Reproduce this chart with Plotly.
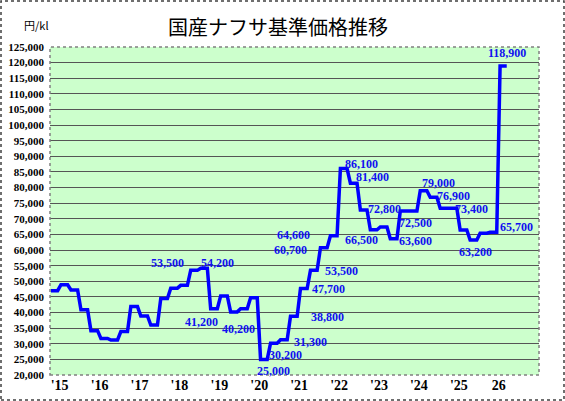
import pandas
import plotly.graph_objs as go

# quarterly domestic naphtha base price (yen/kl), 2015 Q1 onward
prices = [47000, 48900, 47200, 40900,
          34200, 31700, 31200, 33900,
          41900, 38900, 36000, 44500,
          47800, 48700, 53500, 54200,
          41200, 45300, 40200, 41200,
          44700, 25000, 30200, 31300,
          38800, 47700, 53500, 60700,
          64600, 86100, 81400, 72800,
          66500, 67400, 63600, 72500,
          72500, 79000, 76900, 73400,
          73400, 66400, 63200, 65400,
          65700, 118900]

year_labels = ["'15", "'16", "'17", "'18", "'19", "'20", "'21",
               "'22", "'23", "'24", "'25", "26"]

# quarters that carry a value label
label_q = [14, 15, 16, 18, 21, 22, 23, 24, 25, 26, 27, 28, 29, 30, 31,
           32, 34, 35, 37, 38, 39, 42, 44, 45]
# pixel offsets of each label from its point
label_dx = [-27, 13, -13, 5, 10, 12, 27, 34, 25, 28, -33, -40, 18, 19, 21,
            -12, 22, 12, 15, 20, 28, 2, 23, 4]
label_dy = [7, 5, -13, -17, -12, -12, -2, -1, -1, -1, -2, 1, 5, 6, 1,
            -10, -2, -12, 8, 1, -1, -12, 5, 13]

# each quarter's price is held for three months
rows = []
for i, p in enumerate(prices):
    for k in range(3):
        rows.append([3 * i + k, p])
df = pandas.DataFrame(rows, columns=("month", "price"))

line = go.Scatter(x=df["month"], y=df["price"], mode="lines",
                  line=dict(color="#0000FF", width=3.5), hoverinfo="skip")

fig = go.Figure([line])

ml, mr, mt, mb = 50, 26, 47, 26
W, H = 565, 401
pw, ph = W - ml - mr, H - mt - mb

serif = "Liberation Serif"
blue = "#1010F0"

annotations = []
for q, dx, dy in zip(label_q, label_dx, label_dy):
    annotations.append(dict(x=3 * q + 1, y=prices[q], xref="x", yref="y",
                            text="{:,}".format(prices[q]), showarrow=False,
                            xshift=dx, yshift=dy,
                            font=dict(family=serif, size=12, color=blue,
                                      weight="bold")))

annotations.append(dict(x=(278 - ml) / pw, y=1 + 20 / ph, xref="paper", yref="paper",
                        text="国産ナフサ基準価格推移", showarrow=False,
                        xanchor="center", yanchor="middle",
                        font=dict(family="Noto Sans CJK JP", size=20, color="black")))
annotations.append(dict(x=(36 - ml) / pw, y=1 + 22 / ph, xref="paper", yref="paper",
                        text="円/kl", showarrow=False,
                        xanchor="center", yanchor="middle",
                        font=dict(family="Noto Sans CJK JP", size=11, color="black")))

shapes = [
    # plot frame
    dict(type="rect", xref="paper", yref="paper", x0=0, y0=0, x1=1, y1=1,
         line=dict(color="#808080", width=1.5, dash="dot")),
    # outer frame of the whole picture
    dict(type="rect", xref="paper", yref="paper",
         x0=(1 - ml) / pw, x1=1 + (mr - 1) / pw,
         y0=-(mb - 1) / ph, y1=1 + (mt - 1) / ph,
         line=dict(color="#404040", width=1.5, dash="dot")),
]

fig.update_layout(
    width=W, height=H,
    margin=dict(l=ml, r=mr, t=mt, b=mb, autoexpand=False),
    paper_bgcolor="white",
    plot_bgcolor="#CCFFCC",
    showlegend=False,
    annotations=annotations,
    shapes=shapes,
    xaxis=dict(range=[-0.3, 146.7], showgrid=False, zeroline=False,
               automargin=False,
               tickmode="array",
               tickvals=[12 * i + 2.6 for i in range(len(year_labels))],
               ticktext=year_labels, ticks="",
               tickfont=dict(family=serif, size=14, color="black", weight="bold")),
    yaxis=dict(range=[20000, 125000], dtick=5000, tickformat=",",
               showgrid=True, gridcolor="#555555", gridwidth=1, zeroline=False,
               automargin=False, ticks="", ticklabelstandoff=5,
               tickfont=dict(family=serif, size=11, color="black", weight="bold")),
)

# no page margin round the figure, no toolbar
fig.write_html("out.html", config={"displayModeBar": False},
               post_script="document.body.style.margin='0';")
